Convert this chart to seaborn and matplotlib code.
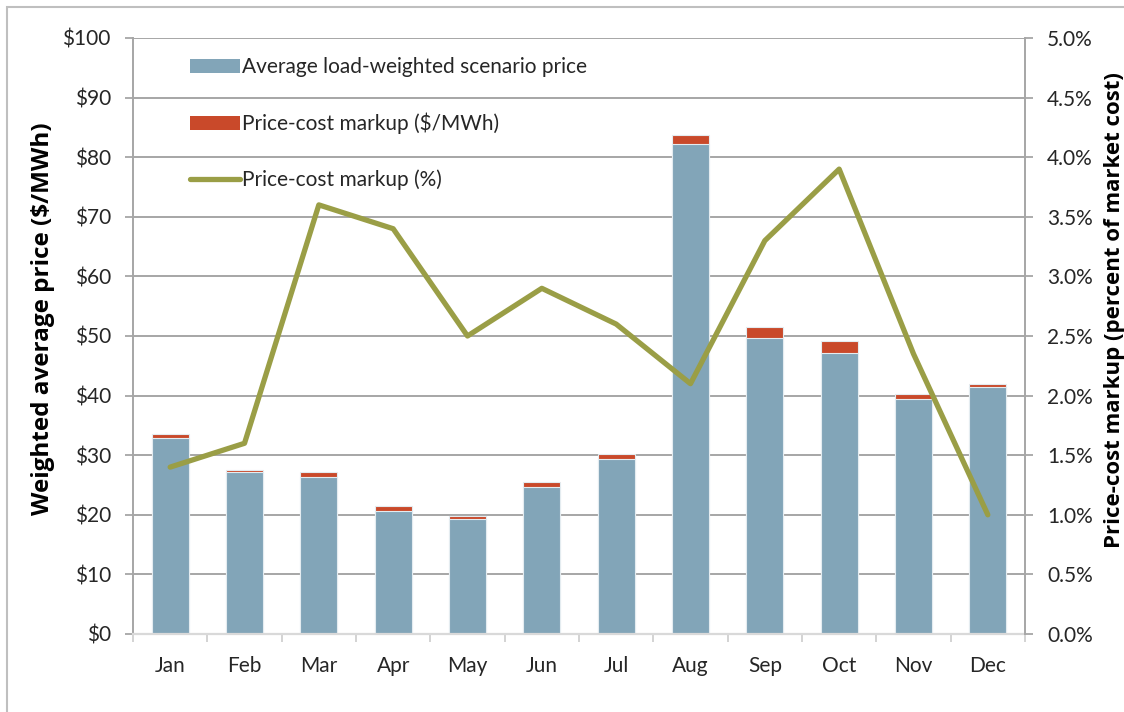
import numpy as np
import pandas as pd
import matplotlib
matplotlib.use("Agg")
import matplotlib.pyplot as plt
import seaborn as sns
from matplotlib.patches import Patch, Rectangle
from matplotlib.lines import Line2D
from matplotlib.ticker import FuncFormatter, MultipleLocator, FixedLocator

# values
months = ["Jan", "Feb", "Mar", "Apr", "May", "Jun",
          "Jul", "Aug", "Sep", "Oct", "Nov", "Dec"]
scenario_price = [32.9, 27.2, 26.3, 20.6, 19.3, 24.7, 29.4, 82.2, 49.6, 47.1, 39.4, 41.4]
markup_dollars = [0.7, 0.4, 0.95, 0.95, 0.5, 0.8, 0.75, 1.6, 1.85, 2.05, 0.9, 0.5]
markup_percent = [1.4, 1.6, 3.6, 3.4, 2.5, 2.9, 2.6, 2.1, 3.3, 3.9, 2.35, 1.0]

df = pd.DataFrame({"month": months, "price": scenario_price,
                   "markup": markup_dollars, "pct": markup_percent})
df["total"] = df["price"] + df["markup"]

BLUE = "#82A5B8"
RED = "#C9492A"
OLIVE = "#9A9E46"
GRID = "#A6A6A6"
TXT = "#262626"
BOLD_FONT = ["Open Sans", "DejaVu Sans"]

sns.set_style("white")
plt.rcParams["font.family"] = ["Lato", "DejaVu Sans"]

fig = plt.figure(figsize=(11.24, 7.12), dpi=100)
ax = fig.add_axes([133 / 1124, 1 - 634 / 712, (1025 - 133) / 1124, (634 - 38) / 712])
ax2 = ax.twinx()

# stacked bars: total in red, base price drawn over it in blue
sns.barplot(data=df, x="month", y="total", color=RED, saturation=1, width=0.5,
            edgecolor="#E4ECF0", linewidth=0.8, ax=ax)
sns.barplot(data=df, x="month", y="price", color=BLUE, saturation=1, width=0.5,
            edgecolor="#E4ECF0", linewidth=0.8, ax=ax)

sns.pointplot(data=df, x="month", y="pct", color=OLIVE, markers="", linestyles="-",
              errorbar=None, linewidth=3.8, ax=ax2)

ax.set_xlim(-0.5, len(months) - 0.5)
ax.set_ylim(0, 100)
ax2.set_ylim(0, 5)
ax.yaxis.set_major_locator(MultipleLocator(10))
ax2.yaxis.set_major_locator(MultipleLocator(0.5))
ax.yaxis.set_major_formatter(FuncFormatter(lambda v, p: f"${v:.0f}"))
ax2.yaxis.set_major_formatter(FuncFormatter(lambda v, p: f"{v:.1f}%"))

ax.set_axisbelow(True)
ax.grid(axis="y", color=GRID, lw=1.4)
ax.grid(axis="x", visible=False)

# x ticks: labels at centres, tick marks at the category boundaries
ax.set_xticks(range(len(months)))
ax.set_xticklabels(months)
ax.xaxis.set_minor_locator(FixedLocator(np.arange(-0.5, len(months), 1.0)))
ax.tick_params(axis="x", which="major", length=0, pad=16, labelsize=15, labelcolor=TXT)
ax.tick_params(axis="x", which="minor", length=6, width=1.3, color="#D0D0D0", bottom=True)
ax.tick_params(axis="y", length=6, width=1.3, color=GRID, left=True, pad=10,
               labelsize=15, labelcolor=TXT)
ax2.tick_params(axis="y", length=6, width=1.3, color=GRID, right=True, pad=10,
                labelsize=15, labelcolor=TXT)

for s in ["top", "right"]:
    ax.spines[s].set_visible(False)
ax.spines["left"].set_color(GRID)
ax.spines["left"].set_linewidth(1.4)
ax.spines["bottom"].set_color("#D9D9D9")
ax.spines["bottom"].set_linewidth(1.6)
for s in ["top", "left", "bottom"]:
    ax2.spines[s].set_visible(False)
ax2.spines["right"].set_color(GRID)
ax2.spines["right"].set_linewidth(1.4)

ax.set_xlabel("")
ax.set_ylabel("Weighted average price ($/MWh)", fontsize=17.5, fontweight="bold",
              family=BOLD_FONT, color="black", va="center", ha="center")
ax.yaxis.set_label_coords(-0.1009, 0.5285)
ax2.set_ylabel("Price-cost markup (percent of market cost)", fontsize=16,
               fontweight="bold", family=BOLD_FONT, color="black",
               rotation=90, va="center", ha="center")
ax2.yaxis.set_label_coords(1.1, 0.5436)

handles = [Patch(facecolor=BLUE, edgecolor="none"),
           Patch(facecolor=RED, edgecolor="none"),
           Line2D([], [], color=OLIVE, lw=3.8)]
labels = ["Average load-weighted scenario price",
          "Price-cost markup ($/MWh)",
          "Price-cost markup (%)"]
ax2.legend(handles, labels, loc="upper left", bbox_to_anchor=(0.052, 0.985),
           frameon=False, fontsize=15, handlelength=2.4, handletextpad=0.1,
           handleheight=0.65, labelspacing=1.7, borderpad=0, labelcolor=TXT)

# light frame around the whole chart
fig.patches.append(Rectangle((7 / 1124, -0.1), 2, 1.09, transform=fig.transFigure,
                             fill=False, edgecolor="#BFBFBF", lw=1.5))

fig.savefig("out.png", dpi=100)
